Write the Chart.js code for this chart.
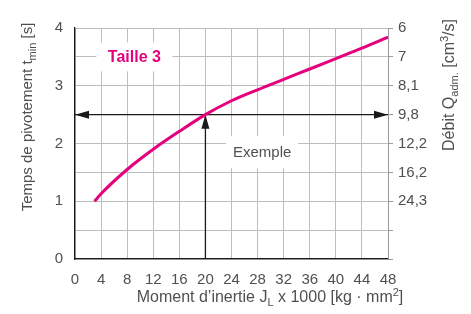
<!DOCTYPE html>
<html><head><meta charset="utf-8">
<script src="https://cdn.jsdelivr.net/npm/chart.js@4"></script>
<style>html,body{margin:0;padding:0;background:#fff}</style>
</head><body>
<canvas id="c" width="471" height="314"></canvas>
<script>
// ---- data ----
const momentInertia = [3, 4, 8, 12, 16, 20, 24, 28, 32, 36, 40, 44, 48];
const pivotTime     = [1.0, 1.13, 1.55, 1.9, 2.21, 2.5, 2.74, 2.93, 3.11, 3.29, 3.47, 3.65, 3.84];
const leftTickLabels  = ['0', '', '1', '', '2', '', '3', '', '4'];          // t = 0, 0.5, ... 4
const rightTickLabels = ['', '', '24,3', '16,2', '12,2', '9,8', '8,1', '7', '6'];
const xTickValues = [0, 4, 8, 12, 16, 20, 24, 28, 32, 36, 40, 44, 48];
const exampleInertia = [20];
const exampleTime = [2.5];
const seriesLabel = 'Taille 3';
const exampleLabel = 'Exemple';

const FONT = '"Liberation Sans", Arial, sans-serif';
const TEXT = '#505050';
const MAGENTA = '#e5007d';
const GRID = '#bdbdbd';

function drawRich(ctx, parts, x, y, rotate, size) {
  ctx.save();
  ctx.translate(x, y);
  if (rotate) ctx.rotate(-Math.PI / 2);
  ctx.fillStyle = TEXT;
  ctx.textBaseline = 'middle';
  ctx.textAlign = 'left';
  let total = 0;
  parts.forEach(p => {
    p.size = (p.sub || p.sup) ? Math.round(size * 0.7) : size;
    ctx.font = p.size + 'px ' + FONT;
    p.w = ctx.measureText(p.t).width;
    total += p.w;
  });
  let cx = -total / 2;
  parts.forEach(p => {
    ctx.font = p.size + 'px ' + FONT;
    ctx.fillText(p.t, cx, p.sub ? size * 0.3 : (p.sup ? -size * 0.33 : 0));
    cx += p.w;
  });
  ctx.restore();
}

function arrowHead(ctx, tx, ty, dir) {
  const L = 14, H = 4;
  ctx.save();
  ctx.translate(tx, ty);
  ctx.rotate(dir);
  ctx.beginPath();
  ctx.moveTo(0, 0);
  ctx.lineTo(-L, -H);
  ctx.lineTo(-L, H);
  ctx.closePath();
  ctx.fillStyle = '#1a1a1a';
  ctx.fill();
  ctx.restore();
}

function labelBox(ctx, cx, cy, w, h) {
  ctx.fillStyle = '#fff';
  ctx.fillRect(cx - w / 2, cy - h / 2, w, h);
}

const overlay = {
  id: 'overlay',
  beforeDatasetsDraw(chart) {
    const ctx = chart.ctx, xs = chart.scales.x, ys = chart.scales.y;
    ctx.save();
    labelBox(ctx, xs.getPixelForValue(9.1), ys.getPixelForValue(3.5), 76, 29);
    labelBox(ctx, xs.getPixelForValue(28.7), ys.getPixelForValue(1.85), 72, 32);
    const yp = ys.getPixelForValue(exampleTime[0]);
    arrowHead(ctx, xs.getPixelForValue(0), yp, Math.PI);
    arrowHead(ctx, xs.getPixelForValue(48), yp, 0);
    arrowHead(ctx, xs.getPixelForValue(exampleInertia[0]), yp, -Math.PI / 2);
    ctx.restore();
  },
  afterDatasetsDraw(chart) {
    const ctx = chart.ctx, xs = chart.scales.x, ys = chart.scales.y;
    ctx.save();
    ctx.textAlign = 'center';
    ctx.textBaseline = 'middle';
    ctx.font = 'bold 16px ' + FONT;
    ctx.fillStyle = MAGENTA;
    ctx.fillText(seriesLabel, xs.getPixelForValue(9.1), ys.getPixelForValue(3.5) + 1);
    ctx.font = '15px ' + FONT;
    ctx.fillStyle = TEXT;
    ctx.fillText(exampleLabel, xs.getPixelForValue(28.7), ys.getPixelForValue(1.85) + 1);
    ctx.restore();
  },
  afterDraw(chart) {
    const ctx = chart.ctx;
    drawRich(ctx, [{t: 'Moment d\u2019inertie J'}, {t: 'L', sub: true}, {t: ' x 1000 [kg \u00b7 mm'}, {t: '2', sup: true}, {t: ']'}], 270, 298, false, 16);
    drawRich(ctx, [{t: 'Temps de pivotement t'}, {t: 'min', sub: true}, {t: ' [s]'}], 28, 117, true, 15);
    drawRich(ctx, [{t: 'D\u00e9bit Q'}, {t: 'adm.', sub: true}, {t: ' [cm'}, {t: '3', sup: true}, {t: '/s]'}], 450, 85, true, 16);
  }
};

const curve = momentInertia.map((v, i) => ({x: v, y: pivotTime[i]}));

new Chart(document.getElementById('c'), {
  type: 'line',
  data: {
    datasets: [
      {label: seriesLabel, data: curve, borderColor: MAGENTA, borderWidth: 3, pointRadius: 0,
       cubicInterpolationMode: 'monotone', order: 0, yAxisID: 'y'},
      {label: 'h', data: [{x: 0, y: exampleTime[0]}, {x: 48, y: exampleTime[0]}], borderColor: '#1a1a1a',
       borderWidth: 1.3, pointRadius: 0, order: 1, yAxisID: 'y'},
      {label: 'v', data: [{x: exampleInertia[0], y: 0}, {x: exampleInertia[0], y: exampleTime[0]}], borderColor: '#1a1a1a',
       borderWidth: 1.3, pointRadius: 0, order: 1, yAxisID: 'y'}
    ]
  },
  options: {
    responsive: false,
    animation: false,
    devicePixelRatio: 1,
    layout: {padding: {top: 28, left: 0, right: 0, bottom: 0}},
    plugins: {legend: {display: false}, tooltip: {enabled: false}},
    scales: {
      x: {
        type: 'linear', min: 0, max: 48,
        afterBuildTicks: s => { s.ticks = xTickValues.map(v => ({value: v})); },
        grid: {color: GRID, lineWidth: 1, drawTicks: false},
        border: {color: '#1a1a1a', width: 1.3},
        ticks: {padding: 12, color: TEXT, font: {family: FONT, size: 15}, maxRotation: 0, autoSkip: false},
        afterFit: s => { s.height = 55; }
      },
      y: {
        type: 'linear', position: 'left', min: 0, max: 4,
        ticks: {stepSize: 0.5, padding: 12, color: TEXT, font: {family: FONT, size: 15},
                callback: v => leftTickLabels[Math.round(v * 2)]},
        grid: {color: GRID, lineWidth: 1, drawTicks: false},
        border: {color: '#1a1a1a', width: 1.3},
        afterFit: s => { s.width = 75; }
      },
      y2: {
        type: 'linear', position: 'right', min: 0, max: 4,
        ticks: {stepSize: 0.5, padding: 5, color: TEXT, font: {family: FONT, size: 15},
                callback: v => rightTickLabels[Math.round(v * 2)]},
        grid: {drawOnChartArea: false, drawTicks: true, tickLength: 5, color: '#999'},
        border: {color: '#999', width: 1},
        afterFit: s => { s.width = 83; }
      }
    }
  },
  plugins: [overlay]
});
</script>
</body></html>
